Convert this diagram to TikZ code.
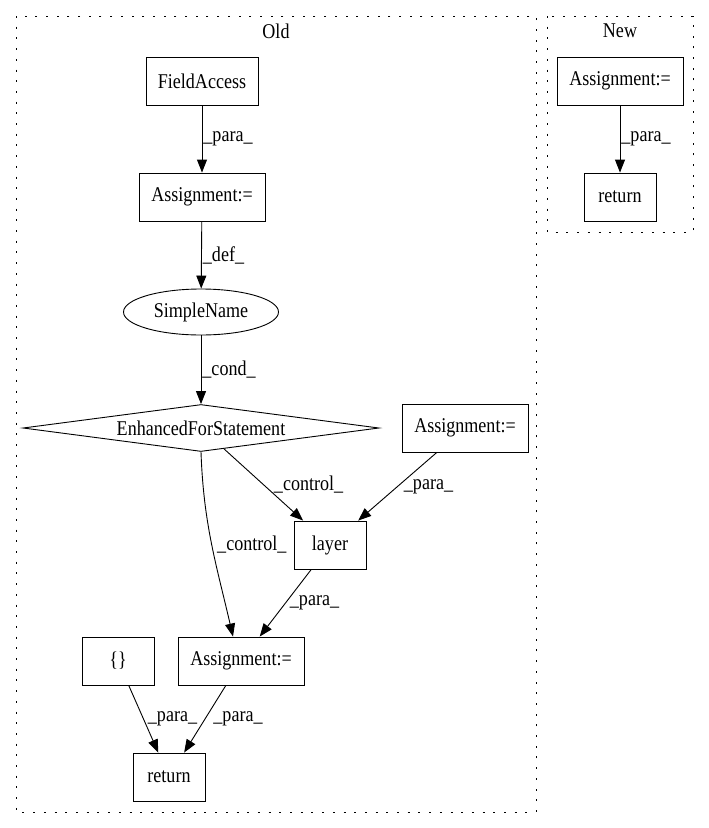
\documentclass[tikz,border=0pt]{standalone}
\usepackage{fontspec}
\setmainfont{Liberation Serif}[FakeStretch=0.86]
\usetikzlibrary{arrows.meta,shapes.geometric}
\begin{document}
\begin{tikzpicture}[x=1pt, y=-1pt, font=\fontsize{21}{25}\selectfont,
  stmt/.style={draw, rectangle, line width=0.9pt, minimum width=72pt, minimum height=48pt, inner xsep=8pt},
  wide/.style={minimum width=126pt},
  arr/.style={-{Triangle[length=13pt,width=10pt]}, line width=0.9pt},
  lbl/.style={right, inner sep=1pt},
  cluster/.style={line width=0.9pt, dash pattern=on 2pt off 8.7pt}]
\useasboundingbox (0,0) rectangle (709,828);
\draw[cluster] (16,16) rectangle (536,812);
\draw[cluster] (547,16) rectangle (693,232);
\node (old) at (276,31){Old};
\node (new) at (620,31){New};
\node[stmt, minimum width=112pt] (fa) at (202,81){FieldAccess};
\node[stmt, wide] (a1) at (202,197){Assignment:=};
\node[draw, ellipse, line width=0.9pt, minimum width=155pt, minimum height=46pt, inner sep=0pt] (sn) at (201,312){SimpleName};
\node[draw, diamond, aspect=7.6, line width=0.9pt, minimum width=356pt, minimum height=47pt, inner sep=0pt] (dia) at (201,428){EnhancedForStatement};
\node[stmt, wide] (ra) at (465,428){Assignment:=};
\node[stmt] (layer) at (330,545){layer};
\node[stmt, wide] (a3) at (241,661){Assignment:=};
\node[stmt] (brace) at (118,661){\{\}};
\node[stmt] (ret) at (169,777){return};
\node[stmt, wide] (na) at (620,81){Assignment:=};
\node[stmt] (nr) at (620,197){return};
\draw[arr](fa) -- node[lbl]{\_para\_} (a1);
\draw[arr](a1) -- node[lbl]{\_def\_} (sn);
\draw[arr](sn) -- node[lbl]{\_cond\_} (dia);
\draw[arr](dia) -- node[lbl, xshift=9pt]{\_control\_} (layer);
\draw[arr](ra) -- node[lbl, xshift=5pt]{\_para\_} (layer);
\draw[arr](dia.south) to[out=-88, in=103] node[lbl, xshift=4pt]{\_control\_} ([xshift=-8pt]a3.north);
\draw[arr](layer) -- node[lbl, xshift=3pt]{\_para\_} (a3);
\draw[arr](brace) -- node[lbl, xshift=3pt]{\_para\_} (ret);
\draw[arr](a3) -- node[lbl, xshift=7pt]{\_para\_} (ret);
\draw[arr](na) -- node[lbl]{\_para\_} (nr);
\end{tikzpicture}
\end{document}
